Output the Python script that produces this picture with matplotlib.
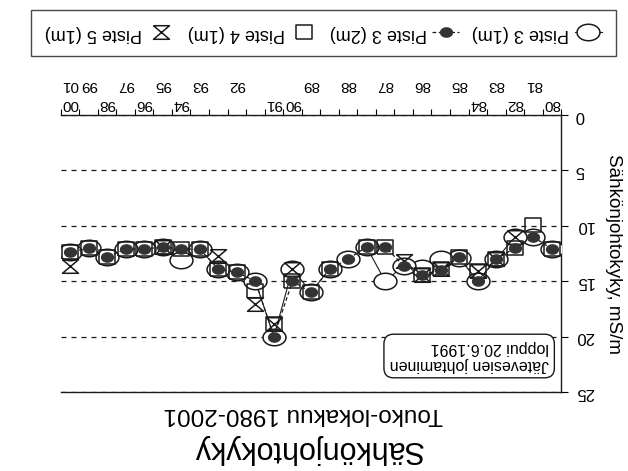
import numpy as np
import matplotlib
matplotlib.use('Agg')
import matplotlib.pyplot as plt
from matplotlib.path import Path

plt.rcParams['font.family'] = ['Liberation Sans', 'DejaVu Sans']

nan = np.nan
# sampling occasions (categorical x axis), labels near the axis / outer row
inner_labels = ['80', '', '82', '', '84', '', '', '', '', '', '', '', '', '', '90', '91', '', '', '', '',
                '94', '', '96', '', '98', '', '00']
outer_labels = ['', '81', '', '83', '', '85', '', '86', '', '87', '', '88', '', '89', '', '', '', '92', '', '93',
                '', '95', '', '97', '', '99', '01']

piste3_1m = [12.1, 11.0, 11.0, 13.0, 15.0, 12.9, 13.0, 13.8, 13.6, 15.0, 11.9, 13.0, 13.9, 16.0, 13.9, 20.0,
             15.0, 14.2, 13.9, 12.1, 13.1, 11.9, 12.1, 12.1, 12.8, 12.0, 12.4]
piste3_2m = [12.1, 11.0, 12.0, 13.0, 15.0, 12.8, 14.0, 14.4, 13.6, 11.9, 11.9, 13.0, 13.9, 16.0, 15.0, 20.0,
             15.0, 14.2, 13.9, 12.1, 12.1, 11.9, 12.1, 12.1, 12.8, 12.0, 12.4]
piste4_1m = [12.1, 9.9, 12.0, 13.0, 14.1, 12.8, 13.9, 14.4, nan, 11.9, 11.9, nan, 13.9, 16.0, 15.0, 18.9,
             15.9, 14.2, 13.9, 12.1, 12.1, 11.9, 12.1, 12.1, 12.8, 12.0, 12.4]
piste5_1m = [nan, nan, 11.0, 13.0, 14.1, nan, 13.9, 14.4, 13.2, nan, nan, nan, nan, nan, 13.9, 18.9,
             17.1, nan, 12.7, nan, nan, 11.9, nan, nan, nan, nan, 13.6]

series_names = ['Piste 3 (1m)', 'Piste 3 (2m)', 'Piste 4 (1m)', 'Piste 5 (1m)']
y_ticks = [0, 5, 10, 15, 20, 25]

title = 'Sähkönjohtokyky'
subtitle = 'Touko-lokakuu 1980-2001'
ylabel = 'Sähkönjohtokyky, mS/m'
note = 'Jätevesien johtaminen\nloppui 20.6.1991'

# marker shapes
th = np.linspace(0, 2 * np.pi, 64)
ell_big = Path(np.column_stack([np.cos(th), 0.72 * np.sin(th)]))
ell_small = Path(np.column_stack([np.cos(th), 0.78 * np.sin(th)]))
rect = Path([(-1, -0.85), (1, -0.85), (1, 0.85), (-1, 0.85), (-1, -0.85)])
hourglass = Path([(-1, 0.85), (1, 0.85), (-1, -0.85), (1, -0.85), (-1, 0.85)])

ink = '#1a1a1a'
fig = plt.figure(figsize=(6.28, 4.71), dpi=100)
ax = fig.add_axes([0.0967, 0.1677, 0.797, 0.588])

n = len(inner_labels)
x = np.arange(n)

l1, = ax.plot(x, piste3_1m, color=ink, lw=0.8, marker=ell_big, ms=16.5, mfc='white', mec=ink, mew=1.1, zorder=3)
l2, = ax.plot(x, piste3_2m, color=ink, lw=0.9, ls=(0, (3, 2)), marker=ell_small, ms=8.5, mfc='#333333',
              mec='#333333', zorder=5)
l3, = ax.plot(x, piste4_1m, ls='none', marker=rect, ms=11.5, mfc='none', mec=ink, mew=1.1, zorder=4)
l4, = ax.plot(x, piste5_1m, ls='none', marker=hourglass, ms=11.5, mfc='none', mec=ink, mew=1.1, zorder=4)

ax.set_xlim(n - 0.5, -0.5)
ax.set_ylim(25, 0)

ax.xaxis.tick_top()
ax.set_xticks(x)
ax.set_xticklabels([a + '\n' + b for a, b in zip(inner_labels, outer_labels)], rotation=180,
                   fontsize=11, linespacing=1.45)
ax.set_xticks(np.arange(n + 1) - 0.5, minor=True)
ax.tick_params(axis='x', which='major', length=0, pad=3, top=True, bottom=False, labeltop=True,
               labelbottom=False)
ax.tick_params(axis='x', which='minor', length=4, width=0.8, top=True, bottom=False, direction='out')

ax.yaxis.tick_right()
ax.set_yticks(y_ticks)
ax.set_yticklabels([str(v) for v in y_ticks], rotation=180, fontsize=12, va='center')
ax.tick_params(axis='y', which='major', length=5, width=0.8, right=True, left=False, pad=5)

ax.grid(axis='y', linestyle=(0, (4, 4)), color=ink, lw=0.9)
for s in ['top', 'right', 'bottom']:
    ax.spines[s].set_color(ink)
    ax.spines[s].set_linewidth(1.0)
ax.spines['left'].set_visible(False)

ax.yaxis.set_label_position('right')
ax.set_ylabel(ylabel, rotation=270, fontsize=13.5, va='center', ha='center')
ax.yaxis.set_label_coords(1.105, 0.5)

ax.text(0.816, 0.13, note, transform=ax.transAxes, rotation=180, ha='center', va='center',
        multialignment='left', fontsize=11.5, zorder=6,
        bbox=dict(boxstyle='round,pad=0.35,rounding_size=0.6', fc='white', ec=ink, lw=1.0))

fig.text(0.489, 1 - 449 / 471, title, rotation=180, ha='center', va='center', fontsize=22)
fig.text(0.483, 1 - 414 / 471, subtitle, rotation=180, ha='center', va='center', fontsize=17.5)

handles = [l4, l3, l2, l1]
leg = fig.legend(handles, series_names[::-1], loc='center', bbox_to_anchor=(0.515, 0.929), ncol=4,
                 markerfirst=False, frameon=True, fancybox=False, edgecolor=ink, fontsize=13,
                 handlelength=1.5, columnspacing=0.7, handletextpad=0.3, borderpad=0.8)
leg.get_frame().set_linewidth(1.0)
for t in leg.get_texts():
    t.set_rotation(180)

fig.savefig('out.png', dpi=100)
